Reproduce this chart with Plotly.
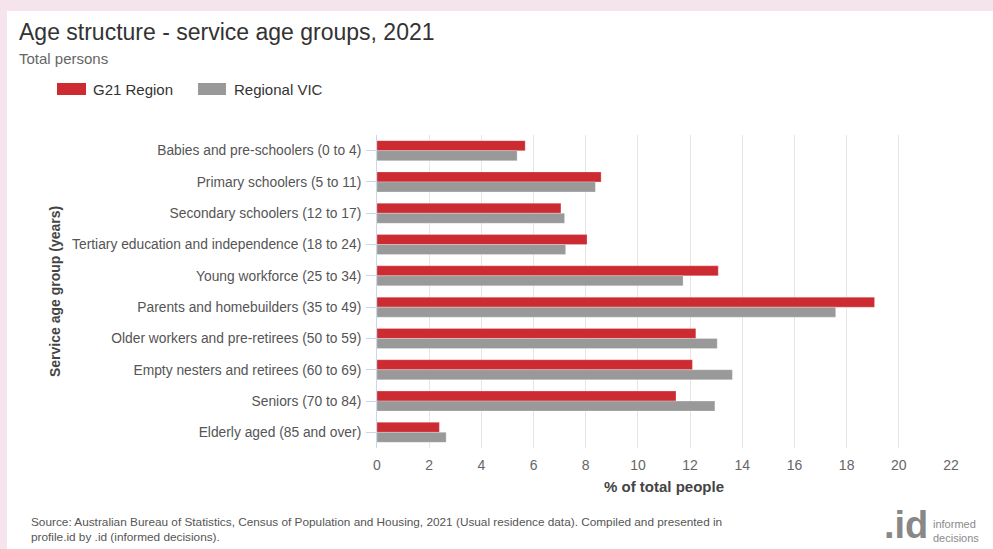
import plotly.graph_objects as go

categories = [
    "Babies and pre-schoolers (0 to 4)",
    "Primary schoolers (5 to 11)",
    "Secondary schoolers (12 to 17)",
    "Tertiary education and independence (18 to 24)",
    "Young workforce (25 to 34)",
    "Parents and homebuilders (35 to 49)",
    "Older workers and pre-retirees (50 to 59)",
    "Empty nesters and retirees (60 to 69)",
    "Seniors (70 to 84)",
    "Elderly aged (85 and over)",
]
g21_region = [5.68, 8.59, 7.05, 8.05, 13.08, 19.07, 12.22, 12.09, 11.46, 2.39]
regional_vic = [5.37, 8.37, 7.19, 7.23, 11.73, 17.58, 13.04, 13.62, 12.95, 2.65]
series_names = ["G21 Region", "Regional VIC"]
x_ticks = list(range(0, 23, 2))

RED = "#cc2b32"
GREY = "#999999"
FONT = "Liberation Sans, Arial, sans-serif"

W, H = 993, 549
ML, MR, MT, MB = 377, 42, 135, 101
PW = W - ML - MR
PH = H - MT - MB


def px(x):
    return (x - ML) / PW


def py(y):
    return (H - MB - y) / PH


fig = go.Figure()
for name, vals, col in [(series_names[0], g21_region, RED), (series_names[1], regional_vic, GREY)]:
    fig.add_trace(go.Bar(
        y=categories, x=vals, name=name, orientation="h",
        marker=dict(color=col, line=dict(color="rgba(255,255,255,0.5)", width=0.5)),
        hovertemplate="%{y}: %{x:.1f}%<extra>" + name + "</extra>",
    ))

shapes = [
    dict(type="rect", xref="paper", yref="paper", x0=px(7), x1=px(1000), y0=py(560), y1=py(11),
         fillcolor="white", line=dict(width=0), layer="below"),
    dict(type="rect", xref="paper", yref="paper", x0=px(57), x1=px(86), y0=py(95), y1=py(83),
         fillcolor=RED, line=dict(width=0)),
    dict(type="rect", xref="paper", yref="paper", x0=px(198), x1=px(226), y0=py(95), y1=py(83),
         fillcolor=GREY, line=dict(width=0)),
]

ann = [
    dict(text="Age structure - service age groups, 2021", x=px(17), y=py(32), xanchor="left", yanchor="middle",
         font=dict(size=23, color="#333333", family=FONT)),
    dict(text="Total persons", x=px(17), y=py(58), xanchor="left", yanchor="middle",
         font=dict(size=15, color="#666666", family=FONT)),
    dict(text=series_names[0], x=px(91), y=py(89), xanchor="left", yanchor="middle",
         font=dict(size=15, color="#333333", family=FONT)),
    dict(text=series_names[1], x=px(232), y=py(89), xanchor="left", yanchor="middle",
         font=dict(size=15, color="#333333", family=FONT)),
    dict(text="<b>Service age group (years)</b>", x=px(55), y=py(291), xanchor="center", yanchor="middle",
         textangle=-90, font=dict(size=14, color="#444444", family=FONT)),
    dict(text="<b>% of total people</b>", x=px(664), y=py(486), xanchor="center", yanchor="middle",
         font=dict(size=15, color="#444444", family=FONT)),
    dict(text="Source: Australian Bureau of Statistics, Census of Population and Housing, 2021 (Usual residence data). Compiled and presented in<br>profile.id by .id (informed decisions).",
         x=px(29), y=py(529), xanchor="left", yanchor="middle", align="left",
         font=dict(size=11.8, color="#555555", family=FONT)),
    dict(text="<b>.id</b>", x=px(930), y=py(525), xanchor="right", yanchor="middle",
         font=dict(size=38, color="#888888", family=FONT)),
    dict(text="informed<br>decisions", x=px(931), y=py(531), xanchor="left", yanchor="middle", align="left",
         font=dict(size=11, color="#8a8a8a", family=FONT)),
]
for a in ann:
    a.update(xref="paper", yref="paper", showarrow=False)

fig.update_layout(
    width=W, height=H,
    margin=dict(l=ML, r=MR, t=MT, b=MB, pad=0),
    paper_bgcolor="#f5e4ec",
    plot_bgcolor="white",
    barmode="group", bargap=0.36, bargroupgap=0,
    showlegend=False,
    shapes=shapes, annotations=ann,
    font=dict(family=FONT),
    xaxis=dict(range=[0, 22], tickvals=x_ticks, showgrid=True, gridcolor="#e6e6e6", gridwidth=1,
               zeroline=False, showline=False, ticks="",
               tickfont=dict(size=14, color="#666666"), ticklabelstandoff=7, fixedrange=True),
    yaxis=dict(autorange="reversed", showline=True, linecolor="#ccd6eb", linewidth=1,
               ticks="outside", ticklen=10, tickcolor="#ccd6eb", showgrid=False,
               tickfont=dict(size=13.8, color="#555555"), ticklabelstandoff=2, fixedrange=True),
)

fig.write_html("out.html", config={"displayModeBar": False},
               post_script="document.body.style.margin='0';document.body.style.overflow='hidden';")
